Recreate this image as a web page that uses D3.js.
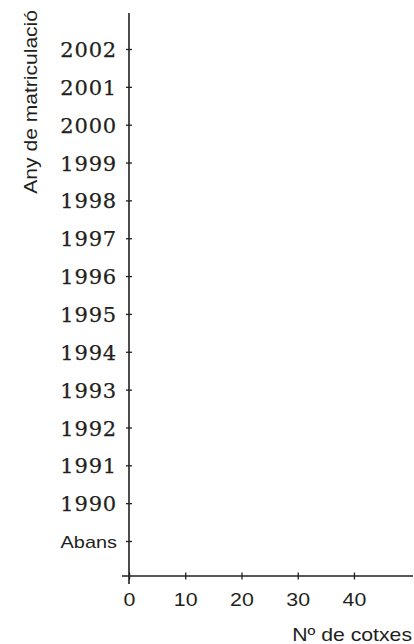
<!DOCTYPE html>
<html>
<head>
<meta charset="utf-8">
<script src="https://cdn.jsdelivr.net/npm/d3@7"></script>
<style>
  body { margin: 0; background: #fff; }
  svg { display: block; }
</style>
</head>
<body>
<div id="chart"></div>
<script>
// categories on the vertical axis (bottom to top)
const years = ["Abans", "1990", "1991", "1992", "1993", "1994", "1995",
               "1996", "1997", "1998", "1999", "2000", "2001", "2002"];
// ticks on the horizontal axis
const xTicks = [0, 10, 20, 30, 40];
const xMax = 50.5;
const yTitle = "Any de matriculació";
const xTitle = "Nº de cotxes";

const width = 414, height = 644;
const ink = "#231f20";
const sans = "'Liberation Sans', Arial, sans-serif";
const wide = 1.17; // the printed sans-serif is a bit wider than Arial

const svg = d3.select("#chart").append("svg")
    .attr("width", width)
    .attr("height", height);

const x = d3.scaleLinear()
    .domain([0, xMax])
    .range([129, 413]);

const y = d3.scalePoint()
    .domain(years)
    .range([541, 49]);

// y axis
const yAxis = svg.append("g")
    .attr("transform", "translate(" + x(0) + ",0)")
    .call(d3.axisLeft(y).tickSizeInner(3).tickSizeOuter(0).tickPadding(9));
yAxis.select(".domain").remove();
yAxis.selectAll(".tick line")
    .attr("x1", 3)
    .attr("stroke", ink)
    .attr("stroke-width", 1.3);
yAxis.selectAll(".tick text")
    .attr("fill", ink)
    .attr("dy", "0.36em")
    .each(function(d) {
        const t = d3.select(this);
        if (d === "Abans") {
            const px = +t.attr("x");
            t.attr("x", 0)
             .attr("transform", "translate(" + px + ",0) scale(" + wide + ",1)")
             .style("font-family", sans)
             .style("font-size", "17px");
        } else {
            t.style("font-family", "'DejaVu Serif', serif")
             .style("font-size", "21px")
             .style("letter-spacing", "0.8px")
             .attr("stroke", ink)
             .attr("stroke-width", 0.25);
        }
    });

// x axis
const xAxis = svg.append("g")
    .attr("transform", "translate(0," + 576 + ")")
    .call(d3.axisBottom(x).tickValues(xTicks).tickSizeInner(3.5).tickSizeOuter(0).tickPadding(14));
xAxis.select(".domain").remove();
xAxis.selectAll(".tick line")
    .attr("y1", -3.5)
    .attr("stroke", ink)
    .attr("stroke-width", 1.3);
xAxis.selectAll(".tick text")
    .attr("fill", ink)
    .attr("transform", "scale(1.22,1)")
    .style("font-family", sans)
    .style("font-size", "17.5px");

// axis lines (crossing at the origin)
svg.append("line")
    .attr("x1", x(0)).attr("x2", x(0))
    .attr("y1", 13).attr("y2", 584)
    .attr("stroke", ink)
    .attr("stroke-width", 1.6);
svg.append("line")
    .attr("x1", x(0) - 7).attr("x2", x(xMax))
    .attr("y1", 576).attr("y2", 576)
    .attr("stroke", ink)
    .attr("stroke-width", 1.6);

// titles
svg.append("text")
    .attr("transform", "translate(37,10) rotate(-90) scale(" + wide + ",1)")
    .attr("text-anchor", "end")
    .attr("fill", ink)
    .style("font-family", sans)
    .style("font-size", "18px")
    .text(yTitle);

svg.append("text")
    .attr("transform", "translate(412,641) scale(1.18,1)")
    .attr("text-anchor", "end")
    .attr("fill", ink)
    .style("font-family", sans)
    .style("font-size", "18px")
    .text(xTitle);
</script>
</body>
</html>
